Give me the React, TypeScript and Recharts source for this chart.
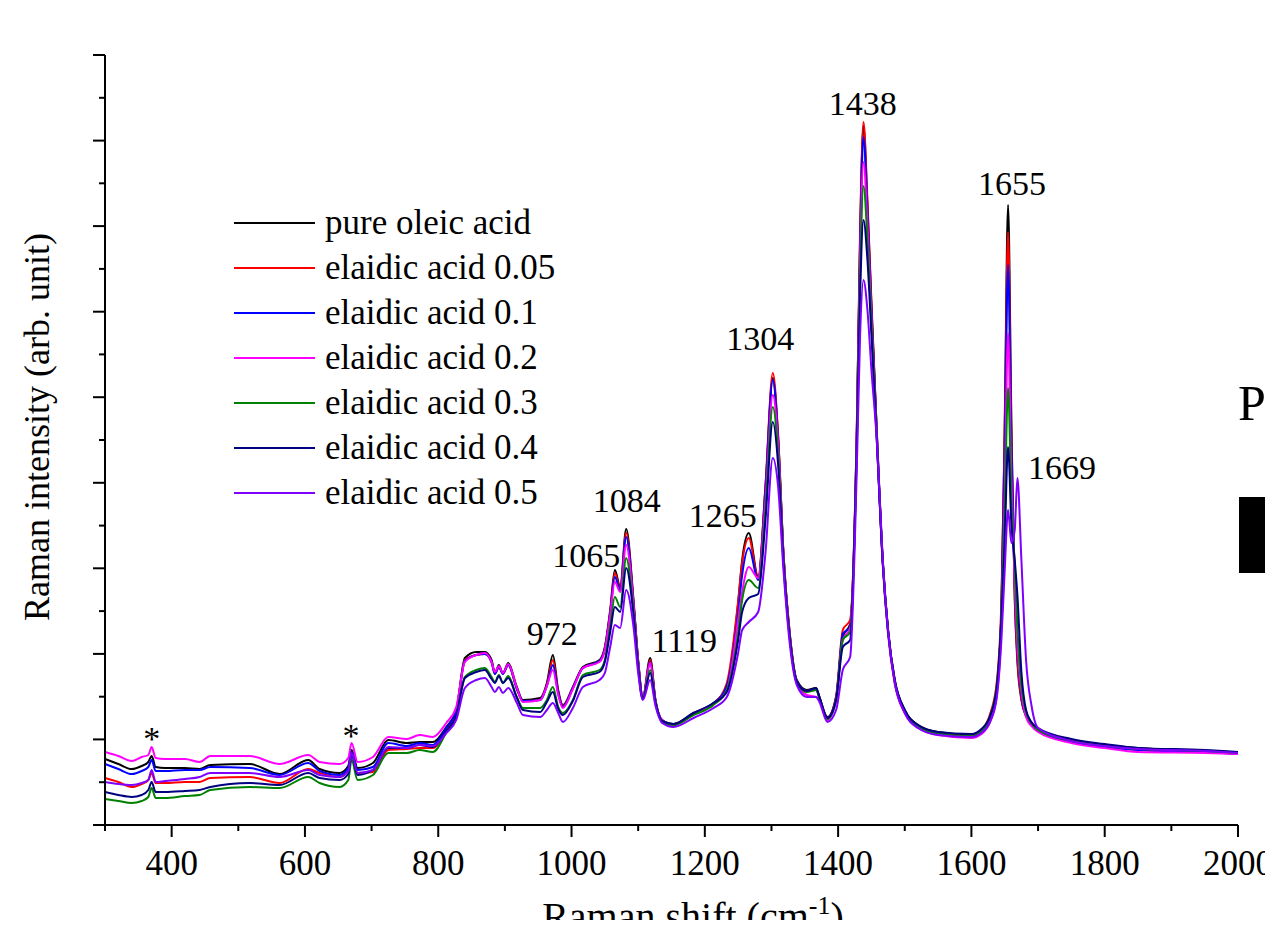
import React from 'react'
import { LineChart, Line, XAxis, YAxis, Label, Legend, ReferenceDot } from 'recharts'

// Raman shift grid (cm-1)
const shifts = [
  300, 320, 340, 355, 365, 370, 376, 390, 420, 442,
  458, 517, 562, 605, 622, 652, 665, 670, 679, 702,
  725, 753, 772, 792, 812, 827, 840, 857, 870, 880,
  885, 891, 897, 905, 918, 927, 953, 963, 972, 980,
  987, 1002, 1017, 1042, 1050, 1058, 1065, 1073, 1082, 1093,
  1100, 1107, 1118, 1126, 1136, 1153, 1183, 1213, 1233, 1250,
  1256, 1266, 1280, 1291, 1302, 1310, 1318, 1328, 1338, 1353,
  1367, 1372, 1384, 1397, 1407, 1418, 1428, 1433, 1438, 1444,
  1450, 1458, 1467, 1475, 1485, 1500, 1520, 1550, 1600, 1615,
  1628, 1638, 1645, 1650, 1655, 1660, 1665, 1669, 1675, 1682,
  1690, 1700, 1750, 1800, 1850, 1950, 2000,
]

// intensities (arb. unit)
const pureOleic = [
  66, 61, 56, 59, 63, 69, 58, 57, 57, 56,
  60, 61, 51, 65, 56, 52, 59, 75, 57, 62,
  85, 82, 83, 83, 98, 115, 167, 173, 173, 165,
  152, 160, 152, 162, 138, 125, 127, 142, 170, 135,
  120, 138, 158, 165, 178, 215, 255, 238, 296, 225,
  165, 128, 167, 125, 105, 101, 112, 122, 138, 222,
  265, 292, 248, 338, 447, 388, 272, 188, 145, 135,
  137, 128, 108, 128, 188, 201, 393, 590, 699, 620,
  520, 395, 265, 195, 145, 115, 100, 93, 90, 94,
  107, 135, 215, 405, 620, 405, 225, 163, 125, 109,
  101, 96, 85, 80, 77, 74, 72,
]

const elaidic005 = [
  47, 43, 38, 41, 45, 52, 42, 42, 43, 43,
  47, 48, 42, 56, 52, 48, 55, 72, 52, 53,
  75, 76, 77, 77, 95, 113, 165, 170, 171, 163,
  151, 158, 151, 160, 136, 124, 125, 140, 165, 133,
  119, 137, 157, 164, 177, 213, 252, 236, 292, 223,
  164, 127, 165, 124, 104, 100, 111, 121, 142, 224,
  262, 287, 247, 340, 452, 390, 272, 188, 144, 134,
  135, 127, 107, 129, 195, 205, 397, 595, 703, 625,
  523, 393, 263, 193, 143, 113, 98, 91, 89, 95,
  111, 143, 225, 395, 593, 385, 230, 167, 127, 109,
  100, 95, 84, 79, 75, 73, 71,
]

const elaidic01 = [
  61, 56, 51, 54, 58, 65, 54, 54, 55, 55,
  58, 57, 50, 62, 54, 50, 57, 73, 55, 58,
  82, 79, 82, 80, 97, 114, 164, 170, 171, 163,
  151, 158, 151, 160, 136, 124, 125, 139, 160, 132,
  118, 137, 157, 164, 176, 212, 248, 235, 288, 222,
  163, 127, 163, 124, 104, 100, 111, 121, 139, 212,
  250, 277, 245, 335, 445, 385, 270, 186, 144, 134,
  136, 127, 107, 127, 191, 198, 390, 580, 688, 613,
  515, 392, 263, 193, 143, 113, 98, 91, 88, 93,
  107, 137, 213, 375, 560, 375, 240, 177, 130, 109,
  100, 94, 83, 78, 75, 73, 71,
]

const elaidic02 = [
  73, 69, 64, 68, 70, 78, 67, 66, 66, 63,
  69, 69, 61, 70, 63, 61, 67, 82, 63, 68,
  88, 86, 90, 88, 102, 118, 163, 170, 172, 163,
  153, 159, 152, 161, 137, 123, 125, 139, 155, 130,
  117, 136, 157, 163, 175, 210, 243, 233, 280, 220,
  162, 127, 162, 123, 105, 100, 111, 121, 135, 205,
  233, 258, 247, 325, 430, 380, 269, 185, 142, 130,
  128, 125, 105, 125, 185, 197, 385, 565, 663, 600,
  505, 390, 260, 190, 141, 112, 97, 90, 87, 91,
  103, 130, 200, 335, 492, 345, 240, 180, 133, 108,
  99, 93, 82, 77, 73, 72, 71,
]

const elaidic03 = [
  26, 24, 22, 24, 28, 37, 27, 27, 29, 30,
  35, 38, 37, 48, 42, 38, 45, 65, 45, 50,
  72, 72, 75, 73, 92, 108, 148, 155, 157, 148,
  143, 150, 142, 149, 128, 117, 117, 125, 138, 118,
  112, 125, 150, 155, 165, 198, 228, 218, 267, 213,
  158, 126, 155, 122, 104, 100, 110, 120, 135, 192,
  225, 245, 237, 315, 418, 370, 265, 184, 143, 133,
  135, 127, 106, 125, 185, 193, 380, 550, 639, 585,
  500, 388, 262, 193, 143, 113, 98, 91, 89, 94,
  109, 139, 210, 315, 437, 325, 260, 197, 140, 113,
  102, 95, 84, 79, 76, 74, 72,
]

const elaidic04 = [
  33, 30, 28, 30, 35, 43, 33, 33, 34, 35,
  38, 42, 40, 52, 47, 45, 51, 70, 50, 55,
  77, 77, 80, 78, 94, 109, 147, 153, 155, 146,
  142, 149, 142, 147, 127, 115, 113, 123, 133, 116,
  110, 124, 148, 153, 163, 193, 218, 213, 257, 210,
  157, 126, 152, 122, 104, 101, 112, 122, 133, 185,
  213, 227, 231, 305, 403, 360, 262, 183, 143, 134,
  137, 128, 107, 125, 178, 185, 375, 530, 605, 565,
  490, 385, 262, 194, 145, 115, 100, 93, 91, 96,
  109, 137, 205, 285, 378, 300, 265, 230, 153, 115,
  103, 97, 86, 81, 77, 75, 73,
]

const elaidic05 = [
  43, 41, 40, 42, 45, 55, 43, 44, 46, 48,
  52, 52, 48, 55, 50, 48, 54, 72, 52, 55,
  78, 77, 80, 79, 92, 105, 137, 145, 147, 138,
  133, 138, 132, 137, 122, 110, 108, 115, 122, 112,
  103, 117, 138, 145, 152, 178, 200, 197, 235, 198,
  152, 125, 145, 119, 102, 98, 107, 117, 128, 172,
  195, 203, 213, 272, 367, 338, 255, 178, 140, 128,
  128, 123, 103, 115, 155, 168, 355, 490, 545, 515,
  455, 385, 265, 195, 143, 112, 97, 90, 88, 92,
  103, 127, 185, 255, 315, 282, 295, 347, 265, 165,
  120, 97, 84, 79, 76, 74, 72,
]

const series = [
  { key: 'pure', name: 'pure oleic acid', color: '#000000', values: pureOleic },
  { key: 'e005', name: 'elaidic acid 0.05', color: '#ff0000', values: elaidic005 },
  { key: 'e01', name: 'elaidic acid 0.1', color: '#0000ff', values: elaidic01 },
  { key: 'e02', name: 'elaidic acid 0.2', color: '#ff00ff', values: elaidic02 },
  { key: 'e03', name: 'elaidic acid 0.3', color: '#008000', values: elaidic03 },
  { key: 'e04', name: 'elaidic acid 0.4', color: '#000080', values: elaidic04 },
  { key: 'e05', name: 'elaidic acid 0.5', color: '#7f00ff', values: elaidic05 },
]

const xTicks = [300, 400, 500, 600, 700, 800, 900, 1000, 1100, 1200, 1300, 1400, 1500, 1600, 1700, 1800, 1900, 2000]
const xLabelled = [400, 600, 800, 1000, 1200, 1400, 1600, 1800, 2000]
const yTicks = [0, 42.8, 85.6, 128.3, 171.1, 213.9, 256.7, 299.4, 342.2, 385, 427.8, 470.6, 513.3, 556.1, 598.9, 641.7, 684.4, 727.2, 770]

// peak annotations: label text and where it sits (shift, intensity)
const peakText = ['1438', '1655', '1304', '1669', '1084', '1265', '1065', '972', '1119', '*', '*']
const peakAtShift = [1437, 1661, 1283, 1736, 1083, 1227, 1022, 971, 1169, 370, 669]
const peakAtLevel = [710, 630, 475, 346, 313, 298, 258, 180, 173, 75, 78]

const serif = '"Liberation Serif", "Times New Roman", serif'

const data = shifts.map((x, i) => {
  const row: Record<string, number> = { x }
  series.forEach((s) => {
    row[s.key] = s.values[i]
  })
  return row
})

function XTick(props: any) {
  const { x, y, payload } = props
  const major = xLabelled.includes(payload.value)
  return (
    <g>
      <line x1={x} y1={y} x2={x} y2={y + (major ? 12 : 6)} stroke="#000" strokeWidth={2} />
      {major && (
        <text x={x} y={y + 50} textAnchor="middle" fontFamily={serif} fontSize={35} fill="#000">
          {payload.value}
        </text>
      )}
    </g>
  )
}

function YTick(props: any) {
  const { x, y, index } = props
  const major = index % 2 === 0
  return <line x1={x - (major ? 12 : 6)} y1={y} x2={x} y2={y} stroke="#000" strokeWidth={2} />
}

function LegendBox() {
  return (
    <div style={{ fontFamily: serif, fontSize: 35, color: '#000' }}>
      {series.map((s) => (
        <div key={s.key} style={{ display: 'flex', alignItems: 'center', height: 45 }}>
          <div style={{ width: 81, height: 2, background: s.color, marginRight: 10 }} />
          <span style={{ lineHeight: '45px', whiteSpace: 'nowrap' }}>{s.name}</span>
        </div>
      ))}
    </div>
  )
}

export default function App() {
  return (
    <div style={{ margin: -8, width: 1273, height: 928, overflow: 'hidden', position: 'relative', background: '#fff' }}>
      <LineChart width={1273} height={928} data={data} margin={{ top: 55, right: 35, left: 0, bottom: 0 }}>
        <XAxis
          dataKey="x"
          type="number"
          domain={[300, 2000]}
          ticks={xTicks}
          allowDataOverflow
          height={103}
          tickSize={0}
          tickMargin={0}
          tickLine={false}
          tick={<XTick />}
          axisLine={{ stroke: '#000', strokeWidth: 2 }}
        >
          <Label
            content={() => (
              <text x={693} y={930} textAnchor="middle" fontFamily={serif} fontSize={40} fill="#000">
                <tspan>Raman shift  (cm</tspan>
                <tspan dy={-16} fontSize={26}>-1</tspan>
                <tspan dy={16}>)</tspan>
              </text>
            )}
          />
        </XAxis>
        <YAxis
          type="number"
          domain={[0, 770]}
          ticks={yTicks}
          allowDataOverflow
          width={105}
          tickSize={0}
          tickMargin={0}
          tickLine={false}
          tick={<YTick />}
          axisLine={{ stroke: '#000', strokeWidth: 2 }}
        >
          <Label
            content={() => (
              <text
                transform="translate(49,427) rotate(-90)"
                textAnchor="middle"
                fontFamily={serif}
                fontSize={36}
                fill="#000"
              >
                Raman intensity (arb. unit)
              </text>
            )}
          />
        </YAxis>
        {series.map((s) => (
          <Line
            key={s.key}
            type="monotone"
            dataKey={s.key}
            name={s.name}
            stroke={s.color}
            strokeWidth={2}
            dot={false}
            isAnimationActive={false}
          />
        ))}
        {peakText.map((t, i) => (
          <ReferenceDot
            key={i}
            x={peakAtShift[i]}
            y={peakAtLevel[i]}
            r={0}
            shape={(p: any) => (
              <text x={p.cx} y={p.cy} textAnchor="middle" fontFamily={serif} fontSize={34} fill="#000">
                {t}
              </text>
            )}
          />
        ))}
        <Legend
          content={<LegendBox />}
          layout="vertical"
          align="center"
          verticalAlign="middle"
          wrapperStyle={{ left: 234, top: 200, width: 360 }}
        />
      </LineChart>
      <svg width={1273} height={928} style={{ position: 'absolute', left: 0, top: 0, pointerEvents: 'none' }}>
        <text x={1238} y={420} fontFamily={serif} fontSize={50} fill="#000">PL</text>
        <rect x={1239} y={497} width={40} height={76} fill="#000" />
      </svg>
    </div>
  )
}
